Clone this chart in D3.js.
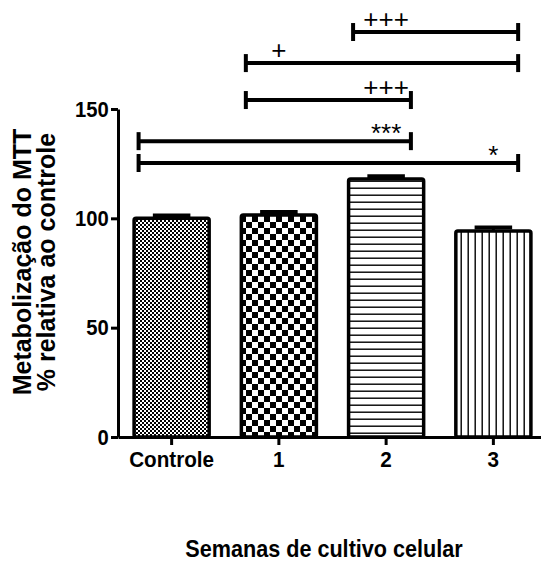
<!DOCTYPE html>
<html lang="pt">
<head>
<meta charset="UTF-8">
<title>Metabolização do MTT</title>
<script src="https://cdn.jsdelivr.net/npm/d3@7/dist/d3.min.js"></script>
<style>
  body { margin: 0; background: #fff; }
  svg text { font-family: "Liberation Sans", Arial, sans-serif; fill: #000; }
  .axis path, .axis line { stroke: #000; stroke-width: 3; }
  .axis text { font-size: 22px; font-weight: bold; }
</style>
</head>
<body>
<svg id="chart" width="541" height="563"></svg>
<script>
// data
var categories = ["Controle", "1", "2", "3"];
var means = [100, 101.5, 118, 94.2];
var errors = [1.3, 1.4, 1.3, 1.6];
var yTicks = [0, 50, 100, 150];
var yTitle = ["Metabolização do MTT", "% relativa ao controle"];
var xTitle = "Semanas de cultivo celular";
// significance brackets: from, to, height (y units), label, label placed over
var bracketFrom = ["2", "1", "1", "Controle", "Controle"];
var bracketTo = ["3", "3", "2", "2", "3"];
var bracketLevel = [185.2, 171, 154.1, 135.3, 125.3];
var bracketLabel = ["+++", "+", "+++", "***", "*"];
var bracketLabelAt = ["2", "1", "2", "2", "3"];

var svg = d3.select("#chart");
var patternIds = ["pat-fine", "pat-check", "pat-hline", "pat-vline"];

var x = d3.scaleBand()
    .domain(categories)
    .range([118, 547])
    .paddingInner(0.3)
    .paddingOuter(0.15);
var y = d3.scaleLinear()
    .domain([0, 150])
    .range([437, 109]);

// fill patterns
var defs = svg.append("defs");
var p1 = defs.append("pattern").attr("id", "pat-fine")
    .attr("patternUnits", "userSpaceOnUse").attr("width", 4).attr("height", 4);
p1.append("rect").attr("width", 4).attr("height", 4).attr("fill", "#fff");
p1.append("rect").attr("width", 2).attr("height", 2).attr("fill", "#000");
p1.append("rect").attr("x", 2).attr("y", 2).attr("width", 2).attr("height", 2).attr("fill", "#000");

var p2 = defs.append("pattern").attr("id", "pat-check")
    .attr("patternUnits", "userSpaceOnUse").attr("width", 12).attr("height", 12);
p2.append("rect").attr("width", 12).attr("height", 12).attr("fill", "#fff");
p2.append("rect").attr("width", 6).attr("height", 6).attr("fill", "#000");
p2.append("rect").attr("x", 6).attr("y", 6).attr("width", 6).attr("height", 6).attr("fill", "#000");

var p3 = defs.append("pattern").attr("id", "pat-hline")
    .attr("patternUnits", "userSpaceOnUse").attr("width", 10).attr("height", 7);
p3.append("rect").attr("width", 10).attr("height", 7).attr("fill", "#fff");
p3.append("rect").attr("y", 5.5).attr("width", 10).attr("height", 1.4).attr("fill", "#000");

var p4 = defs.append("pattern").attr("id", "pat-vline")
    .attr("patternUnits", "userSpaceOnUse").attr("width", 7).attr("height", 10);
p4.append("rect").attr("width", 7).attr("height", 10).attr("fill", "#fff");
p4.append("rect").attr("x", 5.5).attr("width", 1.4).attr("height", 10).attr("fill", "#000");

// bars
svg.append("g").selectAll("rect")
    .data(categories)
    .enter()
    .append("rect")
    .attr("x", function (d) { return x(d); })
    .attr("y", function (d, i) { return y(means[i]); })
    .attr("width", x.bandwidth())
    .attr("height", function (d, i) { return y(0) - y(means[i]); })
    .attr("rx", 2)
    .attr("fill", function (d, i) { return "url(#" + patternIds[i] + ")"; })
    .attr("stroke", "#000")
    .attr("stroke-width", 3.5);

// error bars (upper only)
var err = svg.append("g").selectAll("g")
    .data(categories)
    .enter()
    .append("g");
err.append("line")
    .attr("x1", function (d) { return x(d) + x.bandwidth() / 2; })
    .attr("x2", function (d) { return x(d) + x.bandwidth() / 2; })
    .attr("y1", function (d, i) { return y(means[i]); })
    .attr("y2", function (d, i) { return y(means[i] + errors[i]); })
    .attr("stroke", "#000").attr("stroke-width", 3);
err.append("line")
    .attr("x1", function (d) { return x(d) + x.bandwidth() * 0.25; })
    .attr("x2", function (d) { return x(d) + x.bandwidth() * 0.75; })
    .attr("y1", function (d, i) { return y(means[i] + errors[i]); })
    .attr("y2", function (d, i) { return y(means[i] + errors[i]); })
    .attr("stroke", "#000").attr("stroke-width", 4);

// axes
var yAxis = svg.append("g")
    .attr("class", "axis")
    .attr("transform", "translate(118,0)")
    .call(d3.axisLeft(y).tickValues(yTicks).tickSize(7).tickSizeOuter(0).tickPadding(3));
yAxis.selectAll("text").attr("transform", "scale(0.92,1)");

var xAxis = svg.append("g")
    .attr("class", "axis")
    .attr("transform", "translate(0," + y(0) + ")")
    .call(d3.axisBottom(x).tickSize(8).tickSizeOuter(0).tickPadding(6));
xAxis.selectAll("text").attr("transform", "scale(0.94,1)");

// significance brackets
var br = svg.append("g").selectAll("g")
    .data(bracketLabel)
    .enter()
    .append("g");
function bx1(i) { return x(bracketFrom[i]) + x.bandwidth() * 0.06; }
function bx2(i) { return x(bracketTo[i]) + x.bandwidth() * 0.83; }
br.append("line")
    .attr("x1", function (d, i) { return bx1(i); })
    .attr("x2", function (d, i) { return bx2(i); })
    .attr("y1", function (d, i) { return y(bracketLevel[i]); })
    .attr("y2", function (d, i) { return y(bracketLevel[i]); })
    .attr("stroke", "#000").attr("stroke-width", 4);
br.append("line")
    .attr("x1", function (d, i) { return bx1(i); })
    .attr("x2", function (d, i) { return bx1(i); })
    .attr("y1", function (d, i) { return y(bracketLevel[i]) - 9; })
    .attr("y2", function (d, i) { return y(bracketLevel[i]) + 9; })
    .attr("stroke", "#000").attr("stroke-width", 4);
br.append("line")
    .attr("x1", function (d, i) { return bx2(i); })
    .attr("x2", function (d, i) { return bx2(i); })
    .attr("y1", function (d, i) { return y(bracketLevel[i]) - 9; })
    .attr("y2", function (d, i) { return y(bracketLevel[i]) + 9; })
    .attr("stroke", "#000").attr("stroke-width", 4);
br.append("text")
    .attr("x", function (d, i) { return x(bracketLabelAt[i]) + x.bandwidth() / 2; })
    .attr("y", function (d, i) {
        // asterisks sit high in the em box, plus signs near the middle
        var shift = d.charAt(0) === "*" ? 1 : -4;
        return y(bracketLevel[i]) + shift;
    })
    .attr("text-anchor", "middle")
    .style("font-size", "26px")
    .text(function (d) { return d; });

// axis titles
var yt = svg.append("text")
    .attr("transform", "translate(0," + ((y(0) + y(150)) / 2 - 11) + ") rotate(-90)")
    .attr("text-anchor", "middle")
    .style("font-size", "25px")
    .style("font-weight", "bold");
yt.selectAll("tspan")
    .data(yTitle)
    .enter()
    .append("tspan")
    .attr("x", 0)
    .attr("y", function (d, i) { return 31 + i * 24; })
    .text(function (d) { return d; });

svg.append("text")
    .attr("transform", "translate(324,557) scale(0.94,1)")
    .attr("text-anchor", "middle")
    .style("font-size", "23px")
    .style("font-weight", "bold")
    .text(xTitle);
</script>
</body>
</html>
